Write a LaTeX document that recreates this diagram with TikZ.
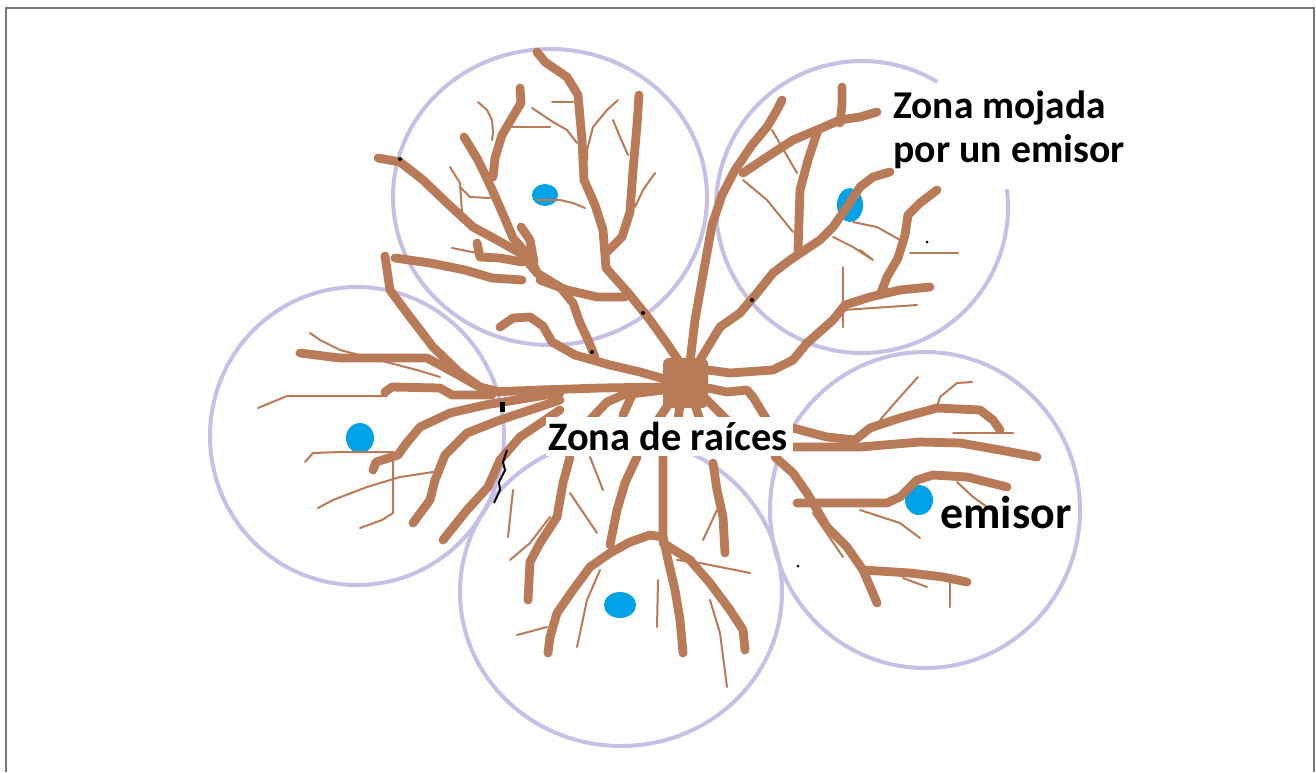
\documentclass[tikz,border=0pt]{standalone}
\usepackage{fontspec}
\setmainfont{Carlito}
\definecolor{rootbrown}{RGB}{185,122,87}
\definecolor{zonelav}{RGB}{200,191,231}
\definecolor{dripblue}{RGB}{0,162,232}
\definecolor{framegray}{RGB}{120,120,120}
\begin{document}
\begin{tikzpicture}[x=0.5pt,y=-0.5pt,
  root/.style={draw=rootbrown,line width=4.4pt,line cap=round,line join=round},
  rootlet/.style={draw=rootbrown,line width=1pt,line cap=round,line join=round},
  zone/.style={draw=zonelav,line width=2pt},
  drip/.style={fill=dripblue},
  speck/.style={fill=black},
  lettering/.style={font=\bfseries,inner sep=0pt,text=black}
]
\useasboundingbox (0,0) rectangle (1316,772);
% page frame (open at the bottom)
\draw[framegray,line width=1pt] (6,772) -- (6,8) -- (1314,8) -- (1314,772);

% wetted zones of the five emitters
\draw[zone] (550,197) ellipse [x radius=157, y radius=148];
\draw[zone] (862,207) ++(-7:146) arc [start angle=-7, end angle=301, radius=146];
\draw[zone] (357,436) ellipse [x radius=147, y radius=149];
\draw[zone] (621,592) ellipse [x radius=161, y radius=154];
\draw[zone] (925,510) ellipse [x radius=155, y radius=158];

% emitters
\fill[drip] (545,195) ellipse [x radius=13, y radius=11];
\fill[drip] (850,205) ellipse [x radius=13, y radius=17];
\fill[drip] (360,438) ellipse [x radius=14, y radius=15];
\fill[drip] (620,605) ellipse [x radius=16, y radius=13];
\fill[drip] (919,500) ellipse [x radius=14, y radius=15];

% ---- upper zone roots
\draw[root] (537,52)--(545,62)--(567,77)--(578,95)--(582,140)--(584,180)--(595,205)--(603,230)--(606,268)--(630,295)--(650,320)--(668,345)--(686,372);
\draw[root] (607,252)--(622,237)--(630,212)--(633,170)--(637,125)--(639,95);
\draw[root] (520,88)--(521,103)--(512,118)--(502,135)--(495,158)--(493,177);
\draw[root] (378,158)--(400,162)--(423,180)--(447,203)--(473,227)--(497,240)--(520,253)--(537,273)--(560,287)--(573,303)--(580,323)--(588,340)--(595,357);
\draw[root] (464,137)--(478,160)--(490,185)--(502,212)--(513,238)--(528,255)--(537,272);
\draw[root] (521,227)--(530,240)--(534,262);
\draw[root] (395,258)--(430,263)--(465,270)--(492,278)--(522,280);
\draw[root] (477,243)--(480,257)--(500,258)--(522,262);
\draw[root] (540,280)--(567,290)--(597,297)--(625,297);
\draw[root] (500,327)--(513,318)--(530,317)--(543,326)--(552,342)--(575,355)--(610,365)--(640,372)--(668,380);
\draw[rootlet] (478,102)--(487,110)--(492,120)--(493,133)--(492,140);
\draw[rootlet] (508,127)--(550,127);
\draw[rootlet] (552,102)--(573,102);
\draw[rootlet] (532,108)--(553,122)--(567,130)--(577,143);
\draw[rootlet] (618,100)--(607,110)--(593,127)--(587,150)--(587,160);
\draw[rootlet] (613,120)--(620,137)--(628,155);
\draw[rootlet] (655,173)--(643,190)--(635,207);
\draw[rootlet] (450,167)--(460,183)--(462,213);
\draw[rootlet] (460,187)--(470,197)--(490,198);
\draw[rootlet] (452,248)--(477,253);
\draw[rootlet] (537,200)--(560,200)--(573,203)--(585,208);

% ---- upper right zone roots
\draw[root] (700,360)--(720,327)--(740,313)--(757,293)--(773,273)--(790,260)--(820,240)--(833,227)--(847,207)--(860,187)--(873,177)--(890,172);
\draw[root] (690,362)--(695,320)--(703,275)--(712,225)--(722,195)--(735,170)--(752,145)--(767,127)--(777,110)--(782,100);
\draw[root] (743,173)--(767,157)--(793,140)--(817,130)--(840,120)--(860,117)--(877,112);
\draw[root] (842,87)--(842,105)--(840,123);
\draw[root] (818,130)--(808,160)--(800,190)--(798,250);
\draw[root] (708,370)--(730,373)--(773,370)--(793,360)--(807,343)--(833,320)--(845,305)--(870,297)--(900,290)--(930,287);
\draw[root] (880,295)--(887,277)--(898,258)--(905,235)--(908,215)--(920,203)--(937,190);
\draw[rootlet] (910,253)--(958,253);
\draw[rootlet] (843,267)--(843,327);
\draw[rootlet] (843,310)--(917,305);
\draw[rootlet] (743,180)--(767,200)--(793,232);
\draw[rootlet] (772,130)--(797,173);
\draw[rootlet] (853,222)--(877,227)--(900,240);
\draw[rootlet] (833,237)--(853,247)--(873,260)--(860,250);

% ---- left zone roots
\draw[root] (665,387)--(600,388)--(540,390)--(490,392);
\draw[root] (385,392)--(392,387)--(440,388)--(452,395)--(492,395);
\draw[root] (300,353)--(340,358)--(380,358)--(427,358)--(453,372)--(485,390);
\draw[root] (385,256)--(390,290)--(407,313)--(433,347)--(460,373)--(480,387)--(500,392);
\draw[root] (560,393)--(540,396)--(485,405)--(450,413)--(420,427)--(405,445)--(398,455)--(376,462)--(373,470);
\draw[root] (560,400)--(500,420)--(467,433)--(445,455)--(435,480)--(430,500)--(413,523);
\draw[root] (560,410)--(520,437)--(500,460)--(488,487)--(467,510)--(443,540);
\draw[rootlet] (310,333)--(320,340)--(340,350)--(367,357)--(417,370)--(440,377);
\draw[rootlet] (258,408)--(270,403)--(287,396)--(387,396);
\draw[rootlet] (305,462)--(313,453)--(340,452)--(393,452);
\draw[rootlet] (393,452)--(393,513)--(382,520)--(360,528);
\draw[rootlet] (318,508)--(333,500)--(367,487)--(400,477)--(433,472);

% ---- lower zone roots
\draw[root] (663,457)--(663,537)--(668,560)--(675,590)--(680,620)--(683,653);
\draw[root] (663,537)--(650,535)--(630,542)--(610,553)--(590,567)--(573,590)--(557,613)--(550,637)--(548,653);
\draw[root] (663,543)--(690,560)--(710,583)--(730,610)--(743,630)--(745,650);
\draw[root] (637,457)--(625,483)--(617,510)--(610,545);
\draw[root] (570,457)--(563,483)--(557,517)--(540,543)--(530,562)--(528,600);
\draw[root] (713,463)--(717,490)--(723,517)--(725,553);
\draw[rootlet] (590,457)--(603,490);
\draw[rootlet] (570,493)--(597,533);
\draw[rootlet] (550,517)--(530,543)--(510,560);
\draw[rootlet] (513,490)--(508,537);
\draw[rootlet] (517,635)--(547,627);
\draw[rootlet] (600,570)--(587,600)--(577,647);
\draw[rootlet] (658,580)--(657,627);
\draw[rootlet] (677,560)--(700,563)--(750,573);
\draw[rootlet] (710,600)--(720,633)--(727,687);
\draw[rootlet] (717,510)--(703,540);

% ---- right zone roots
\draw[root] (793,447)--(860,447)--(920,442)--(960,443)--(1000,450)--(1037,457);
\draw[root] (793,428)--(827,437)--(855,440)--(870,428)--(900,418)--(937,408)--(980,410)--(993,420)--(1000,430);
\draw[root] (797,503)--(843,503)--(887,503)--(900,497)--(917,480)--(933,475)--(967,477)--(1007,487);
\draw[root] (775,457)--(793,473)--(807,493)--(827,527)--(847,547)--(863,570)--(877,603);
\draw[root] (863,570)--(910,573)--(943,577)--(967,582);
\draw[rootlet] (880,420)--(900,397)--(918,377);
\draw[rootlet] (937,407)--(940,397)--(957,383)--(972,382);
\draw[rootlet] (953,433)--(1013,433);
\draw[rootlet] (860,510)--(900,523)--(920,538);
\draw[rootlet] (957,482)--(973,497)--(987,507);
\draw[rootlet] (813,513)--(843,557);
\draw[rootlet] (903,578)--(927,587);
\draw[rootlet] (950,580)--(950,607);

% ---- short roots under the crown
\draw[root] (668,405)--(658,420);
\draw[root] (680,405)--(678,420);
\draw[root] (695,405)--(700,420);
\draw[root] (705,398)--(727,420);
\draw[root] (708,388)--(727,392)--(747,390)--(753,397)--(767,420);
\draw[root] (663,390)--(623,395)--(607,402)--(590,420);
\draw[root] (633,393)--(623,415);

% root crown
\fill[rootbrown,rounded corners=3pt] (663,358) rectangle (708,408);

% specks where roots cross the zone lines
\fill[speck] (500,402) rectangle (505,412);
\fill[speck] (400,159) circle [radius=2];
\fill[speck] (592,352) circle [radius=2];
\fill[speck] (643,313) circle [radius=2];
\fill[speck] (752,300) circle [radius=2];
\fill[speck] (927,242) circle [radius=1.5];
\fill[speck] (798,566) circle [radius=1.5];
\draw[black,line width=1pt] (507,450)--(503,462)--(505,470)--(499,482)--(500,490)--(494,503);

% labels
\fill[white] (546,417) rectangle (793,456);
\node[lettering,font=\bfseries\fontsize{20.2pt}{22pt}\selectfont,anchor=base west] (raices) at (548,450) {Zona de raíces};
\node[lettering,font=\bfseries\fontsize{19.7pt}{22pt}\selectfont,anchor=base west] (mojada) at (893,118) {Zona mojada};
\node[lettering,font=\bfseries\fontsize{19.9pt}{22pt}\selectfont,anchor=base west] (poremisor) at (893,162) {por un emisor};
\node[lettering,font=\bfseries\fontsize{23pt}{26pt}\selectfont,anchor=base west] (emisor) at (940,528) {emisor};
\end{tikzpicture}
\end{document}
